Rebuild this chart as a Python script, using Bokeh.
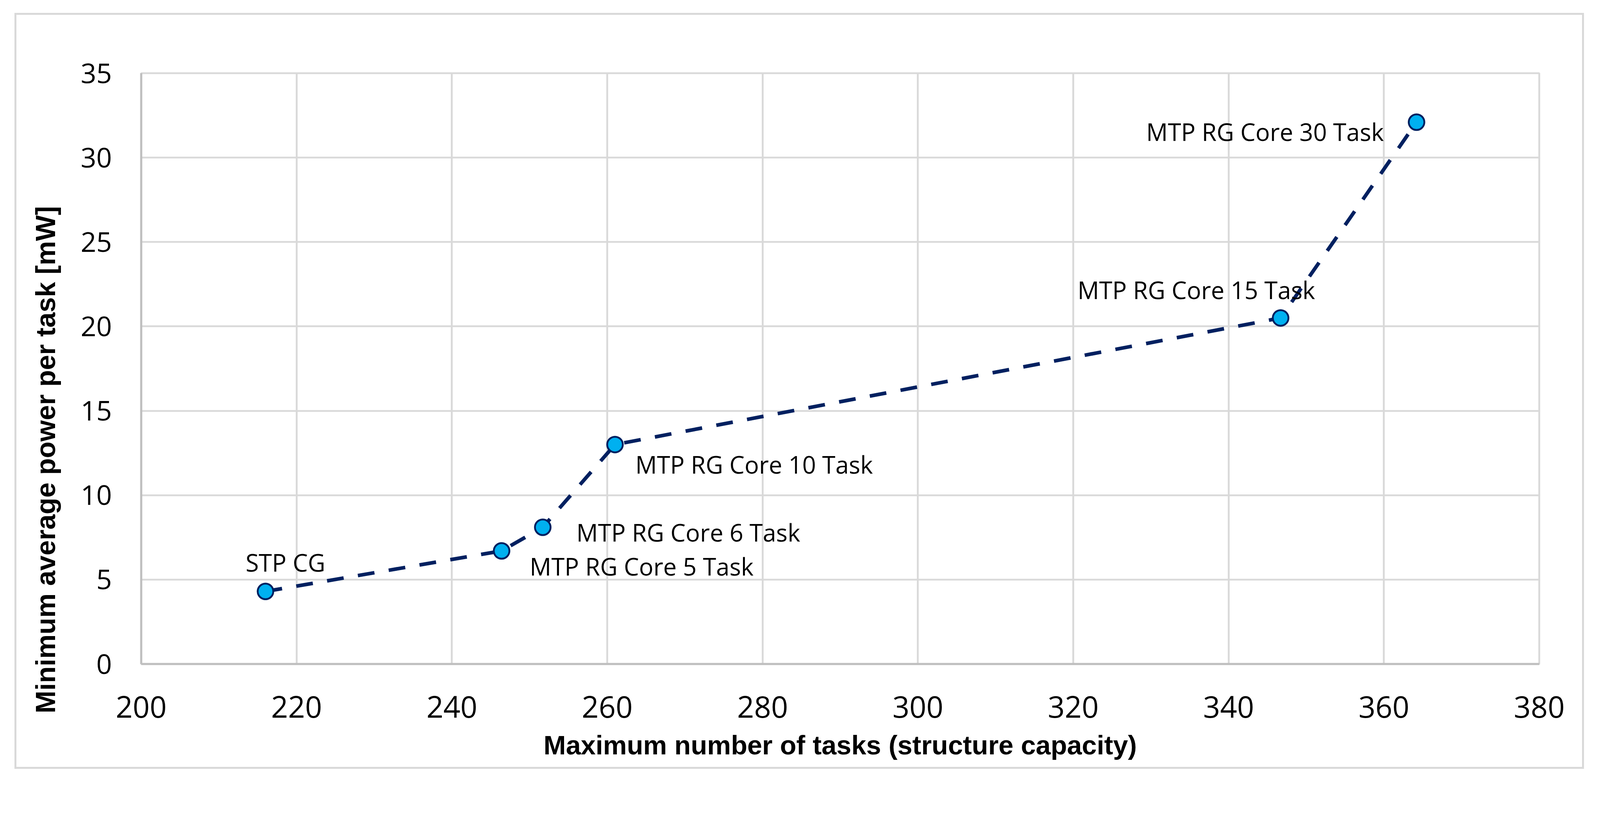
from bokeh.plotting import figure
from bokeh.models import FixedTicker, Range1d, ColumnDataSource
from bokeh.embed import file_html
from bokeh.resources import INLINE
from bokeh.core.properties import value

# ---- data ----
names = ["STP CG", "MTP RG Core 5 Task", "MTP RG Core 6 Task",
         "MTP RG Core 10 Task", "MTP RG Core 15 Task", "MTP RG Core 30 Task"]
max_tasks = [216.0, 246.4, 251.7, 261.0, 346.7, 364.2]
power = [4.3, 6.7, 8.1, 13.0, 20.5, 32.1]
x_ticks = [200, 220, 240, 260, 280, 300, 320, 340, 360, 380]
y_ticks = [0, 5, 10, 15, 20, 25, 30, 35]
x_title = "Maximum number of tasks (structure capacity)"
y_title = "Minimum average power per task [mW]"

# ---- label placement (screen px offsets from each point) ----
label_dx = [-51, 72, 86, 52, -520, -692]
label_dy = [-75, 39, 13, 50, -72, 24]

src = ColumnDataSource(dict(x=max_tasks, y=power, name=names,
                            dx=label_dx, dy=label_dy))

W, H = 4078, 1982
p = figure(width=W, height=H,
           x_range=Range1d(200, 380), y_range=Range1d(0, 35),
           output_backend="svg", toolbar_location=None,
           min_border_left=361, min_border_right=138,
           min_border_top=187, min_border_bottom=282)

# light grey chart-area border drawn as CSS background strips behind the
# (transparent) border area of the canvas
g = "linear-gradient(#d9d9d9,#d9d9d9)"
p.styles = {
    "background-color": "white",
    "background-image": ", ".join([g] * 4),
    "background-position": "37px 33px, 37px 1964px, 37px 33px, 4050px 33px",
    "background-size": "4018px 5px, 4018px 5px, 5px 1936px, 5px 1936px",
    "background-repeat": "no-repeat",
}

p.background_fill_color = "white"
p.border_fill_color = None
p.outline_line_color = "#d9d9d9"
p.outline_line_width = 4.7

p.xaxis.ticker = FixedTicker(ticks=x_ticks)
p.yaxis.ticker = FixedTicker(ticks=y_ticks)
p.xgrid.ticker = FixedTicker(ticks=x_ticks)
p.ygrid.ticker = FixedTicker(ticks=y_ticks)
for gr in (p.xgrid, p.ygrid):
    gr.grid_line_color = "#d9d9d9"
    gr.grid_line_width = 4.7

for ax in (p.xaxis, p.yaxis):
    ax.axis_line_color = "#bfbfbf"
    ax.axis_line_width = 5.5
    ax.major_tick_line_color = None
    ax.minor_tick_line_color = None
    ax.major_tick_in = 0
    ax.major_tick_out = 0
    ax.major_label_text_font = "Open Sans"
    ax.major_label_text_color = "black"
    ax.axis_label_text_font = "Liberation Sans"
    ax.axis_label_text_font_style = "bold"
    ax.axis_label_text_color = "black"

p.xaxis.major_label_text_font_size = "76px"
p.xaxis.major_label_standoff = 81
p.yaxis.major_label_text_font_size = "70px"
p.yaxis.major_label_standoff = 75

p.xaxis.axis_label = x_title
p.xaxis.axis_label_text_font_size = "68.5px"
p.xaxis.axis_label_standoff = 29
# trailing no-break spaces shift the centred title down along the axis
p.yaxis.axis_label = y_title + "\u00a0" * 24
p.yaxis.axis_label_text_font_size = "70px"
p.yaxis.axis_label_standoff = 47

p.line("x", "y", source=src, line_color="#002060", line_width=9.3,
       line_dash="43 37")
p.scatter("x", "y", source=src, size=40, fill_color="#00B0F0",
          line_color="#002060", line_width=4.7)

p.text("x", "y", text="name", source=src, x_offset="dx", y_offset="dy",
       text_font=value("Open Sans"), text_font_size="61.5px",
       text_color="black", text_align="left", text_baseline="alphabetic")

open("out.html", "w").write(file_html(p, INLINE))
